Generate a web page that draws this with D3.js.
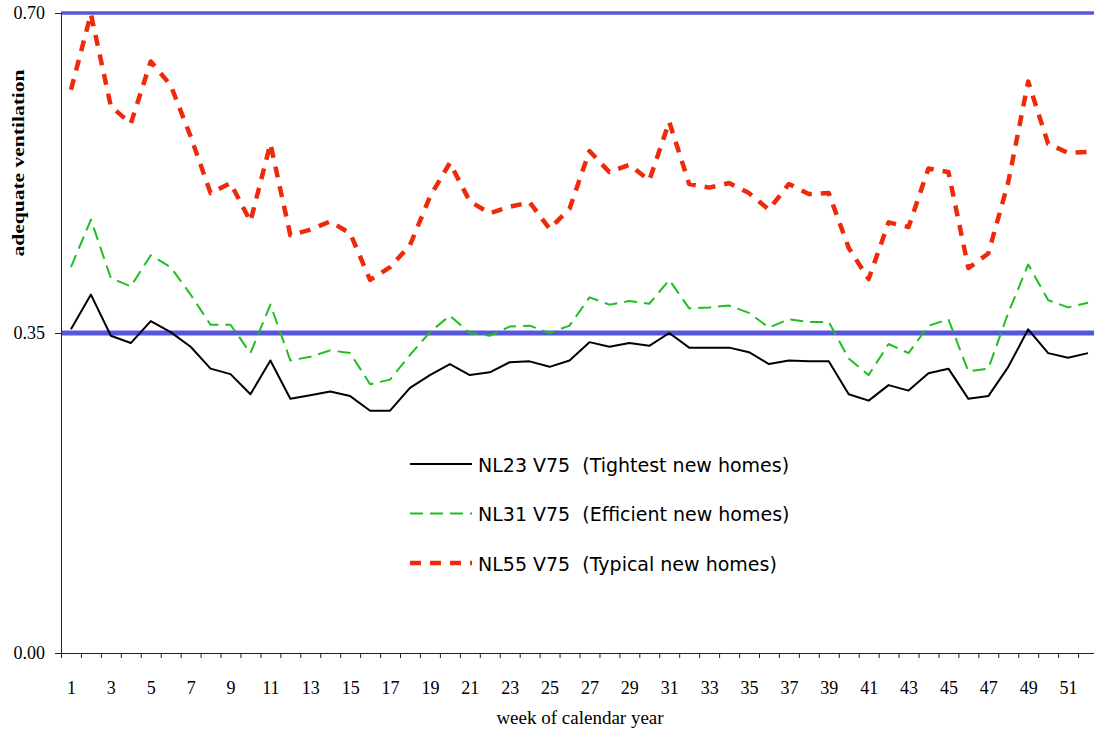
<!DOCTYPE html>
<html>
<head>
<meta charset="utf-8">
<script src="https://cdn.jsdelivr.net/npm/d3@7"></script>
<style>
  body { margin: 0; background: #fff; }
  svg { display: block; }
</style>
</head>
<body>
<div id="chart"></div>
<script>
// weeks of the calendar year (categories)
const weeks = [1, 2, 3, 4, 5, 6, 7, 8, 9, 10, 11, 12, 13, 14, 15, 16, 17, 18, 19, 20,
  21, 22, 23, 24, 25, 26, 27, 28, 29, 30, 31, 32, 33, 34, 35, 36, 37, 38, 39, 40,
  41, 42, 43, 44, 45, 46, 47, 48, 49, 50, 51, 52];

// NL23 V75 (Tightest new homes)
const nl23 = [0.354, 0.392, 0.347, 0.339, 0.363, 0.351, 0.335, 0.311, 0.305, 0.283,
  0.320, 0.278, 0.282, 0.286, 0.281, 0.265, 0.265, 0.290, 0.304, 0.316,
  0.304, 0.307, 0.318, 0.319, 0.313, 0.320, 0.340, 0.335, 0.339, 0.336,
  0.350, 0.334, 0.334, 0.334, 0.329, 0.316, 0.320, 0.319, 0.319, 0.283,
  0.276, 0.293, 0.287, 0.306, 0.311, 0.278, 0.281, 0.313, 0.354, 0.328,
  0.323, 0.328];

// NL31 V75 (Efficient new homes)
const nl31 = [0.422, 0.474, 0.410, 0.401, 0.435, 0.422, 0.392, 0.359, 0.359, 0.328,
  0.381, 0.320, 0.324, 0.331, 0.328, 0.294, 0.299, 0.326, 0.351, 0.369,
  0.350, 0.347, 0.357, 0.358, 0.350, 0.358, 0.389, 0.381, 0.385, 0.382,
  0.408, 0.377, 0.378, 0.380, 0.372, 0.356, 0.365, 0.362, 0.362, 0.322,
  0.304, 0.338, 0.328, 0.358, 0.365, 0.308, 0.311, 0.372, 0.425, 0.386,
  0.378, 0.383];

// NL55 V75 (Typical new homes)
const nl55 = [0.616, 0.699, 0.598, 0.579, 0.647, 0.621, 0.565, 0.503, 0.514, 0.472,
  0.557, 0.457, 0.463, 0.472, 0.459, 0.408, 0.422, 0.446, 0.499, 0.536,
  0.494, 0.481, 0.488, 0.493, 0.464, 0.486, 0.549, 0.526, 0.534, 0.517,
  0.581, 0.513, 0.509, 0.514, 0.503, 0.485, 0.513, 0.502, 0.503, 0.443,
  0.409, 0.471, 0.466, 0.530, 0.526, 0.421, 0.437, 0.515, 0.625, 0.557,
  0.547, 0.548];

const yTicks = [0, 0.35, 0.7];
const refLines = [0.7, 0.35];
const xLabels = weeks.filter((w) => w % 2 === 1);

const series = [
  { name: 'NL23 V75  (Tightest new homes)', values: nl23, color: '#000000', width: 2, dash: null },
  { name: 'NL31 V75  (Efficient new homes)', values: nl31, color: '#1fbf1f', width: 2, dash: '13,7' },
  { name: 'NL55 V75  (Typical new homes)', values: nl55, color: '#ee2a0a', width: 4.5, dash: '11,9' },
];

const width = 1094;
const height = 730;
const plot = { left: 61, right: 1098, top: 13, bottom: 653 };

const svg = d3.select('#chart')
  .append('svg')
  .attr('width', width)
  .attr('height', height);

const xscale = d3.scaleLinear()
  .domain([0.5, weeks.length + 0.5])
  .range([plot.left, plot.right]);

const yscale = d3.scaleLinear()
  .domain([0, 0.7])
  .range([plot.bottom, plot.top]);

// blue reference lines
svg.append('g')
  .selectAll('line')
  .data(refLines)
  .enter()
  .append('line')
  .attr('x1', plot.left)
  .attr('x2', plot.right)
  .attr('y1', (d) => yscale(d))
  .attr('y2', (d) => yscale(d))
  .attr('stroke', '#5656dc')
  .attr('stroke-width', (d) => (d === 0.7 ? 3.5 : 5));

// data lines
const line = d3.line()
  .x((d, i) => xscale(weeks[i]))
  .y((d) => yscale(d));

svg.append('g')
  .selectAll('path')
  .data(series)
  .enter()
  .append('path')
  .attr('d', (s) => line(s.values))
  .attr('fill', 'none')
  .attr('stroke', (s) => s.color)
  .attr('stroke-width', (s) => s.width)
  .attr('stroke-dasharray', (s) => s.dash)
  .attr('stroke-linejoin', 'round');

// x axis: a tick at every week boundary, labels on odd weeks
const xTickAxis = d3.axisBottom(xscale)
  .tickValues(d3.range(0.5, weeks.length + 1, 1))
  .tickSize(5)
  .tickFormat('');

svg.append('g')
  .attr('transform', `translate(0, ${plot.bottom})`)
  .call(xTickAxis)
  .call((g) => g.selectAll('line, path').attr('stroke', '#222'));

const xLabelAxis = d3.axisBottom(xscale)
  .tickValues(xLabels)
  .tickSize(0)
  .tickPadding(28)
  .tickFormat((d) => d.toString());

svg.append('g')
  .attr('transform', `translate(0, ${plot.bottom})`)
  .call(xLabelAxis)
  .call((g) => g.select('.domain').remove())
  .call((g) => g.selectAll('text')
    .style('font-family', '"Liberation Serif", serif')
    .style('font-size', '18px')
    .attr('fill', '#000'));

// y axis
const yAxis = d3.axisLeft(yscale)
  .tickValues(yTicks)
  .tickSize(6)
  .tickPadding(10)
  .tickFormat(d3.format('.2f'));

svg.append('g')
  .attr('transform', `translate(${plot.left}, 0)`)
  .call(yAxis)
  .call((g) => g.selectAll('line, path').attr('stroke', '#222'))
  .call((g) => g.selectAll('text')
    .style('font-family', '"Liberation Serif", serif')
    .style('font-size', '18px')
    .attr('fill', '#000'));

// axis titles
svg.append('text')
  .attr('transform', 'translate(24, 163) rotate(-90)')
  .attr('text-anchor', 'middle')
  .attr('textLength', 187)
  .attr('lengthAdjust', 'spacingAndGlyphs')
  .style('font-family', '"Liberation Serif", serif')
  .style('font-size', '17px')
  .style('font-weight', 700)
  .text('adequate ventilation');

svg.append('text')
  .attr('x', 580)
  .attr('y', 724)
  .attr('text-anchor', 'middle')
  .style('font-family', '"Liberation Serif", serif')
  .style('font-size', '19px')
  .text('week of calendar year');

// legend
const legend = svg.append('g')
  .attr('transform', 'translate(410, 464)');

const legendItem = legend.selectAll('g')
  .data(series)
  .enter()
  .append('g')
  .attr('transform', (d, i) => `translate(0, ${i * 49.5})`);

legendItem.append('line')
  .attr('x1', 0)
  .attr('x2', 62)
  .attr('stroke', (s) => s.color)
  .attr('stroke-width', (s) => (s.width > 3 ? 4.5 : 1.8))
  .attr('stroke-dasharray', (s) => s.dash);

legendItem.append('text')
  .attr('x', 68)
  .attr('y', 7.5)
  .style('font-family', '"DejaVu Sans", Verdana, sans-serif')
  .style('font-size', '19px')
  .style('white-space', 'pre')
  .text((s) => s.name);
</script>
</body>
</html>
